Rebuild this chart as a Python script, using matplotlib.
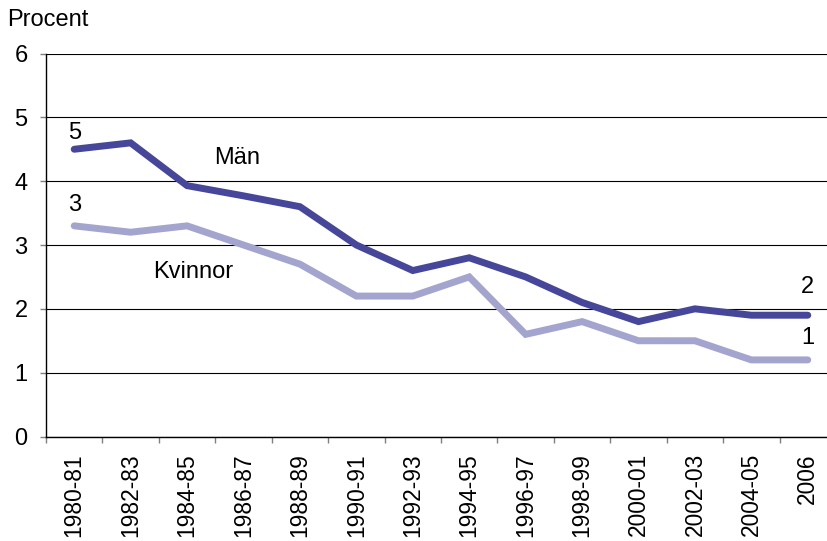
import matplotlib
matplotlib.use("Agg")
import matplotlib.pyplot as plt

categories = ["1980-81", "1982-83", "1984-85", "1986-87", "1988-89", "1990-91",
              "1992-93", "1994-95", "1996-97", "1998-99", "2000-01", "2002-03",
              "2004-05", "2006"]
man = [4.5, 4.6, 3.93, 3.77, 3.6, 3.0, 2.6, 2.8, 2.5, 2.1, 1.8, 2.0, 1.9, 1.9]
kvinnor = [3.3, 3.2, 3.3, 3.0, 2.7, 2.2, 2.2, 2.5, 1.6, 1.8, 1.5, 1.5, 1.2, 1.2]
yticks = [0, 1, 2, 3, 4, 5, 6]

plt.rcParams['font.family'] = ['Liberation Sans', 'DejaVu Sans']
FS = 17

W, H = 827, 541
fig = plt.figure(figsize=(W / 100, H / 100), dpi=100)
left, right = 46 / W, 836 / W
bottom, top = (H - 436.5) / H, (H - 53.5) / H
ax = fig.add_axes([left, bottom, right - left, top - bottom])

x = list(range(len(categories)))
c_man = "#46479A"
c_kv = "#A3A5CF"
ax.plot(x, kvinnor, color=c_kv, lw=5, solid_capstyle="round", solid_joinstyle="miter", zorder=3)
ax.plot(x, man, color=c_man, lw=5, solid_capstyle="round", solid_joinstyle="miter", zorder=4)

ax.set_xlim(-0.5, len(categories) - 0.5)
ax.set_ylim(0, 6)
ax.set_yticks(yticks)
ax.set_yticklabels([str(v) for v in yticks], fontsize=FS)
ax.yaxis.grid(True, color="#000000", lw=0.8)
ax.set_axisbelow(True)

ax.set_xticks([i - 0.5 for i in range(len(categories) + 1)], minor=False)
ax.set_xticklabels([""] * (len(categories) + 1))
ax.set_xticks(x, minor=True)
ax.set_xticklabels(categories, minor=True, rotation=90, fontsize=16.4)
ax.tick_params(axis="x", which="minor", length=0, pad=12)
ax.tick_params(axis="x", which="major", length=4.3, color="#808080", width=1)
ax.tick_params(axis="y", length=4.3, width=1, color="#808080", pad=9)

for s in ["top", "right"]:
    ax.spines[s].set_visible(False)
ax.spines["left"].set_color("#000000")
ax.spines["bottom"].set_color("#000000")
ax.spines["left"].set_linewidth(1)
ax.spines["bottom"].set_linewidth(1)

ax.text(0, 4.75, "5", fontsize=FS, ha="center", va="center")
ax.text(0, 3.63, "3", fontsize=FS, ha="center", va="center")
ax.text(13, 2.34, "2", fontsize=FS, ha="center", va="center")
ax.text(13, 1.54, "1", fontsize=FS, ha="center", va="center")
ax.text(2.89, 4.36, "Män", fontsize=FS, ha="center", va="center")
ax.text(2.11, 2.58, "Kvinnor", fontsize=FS, ha="center", va="center")

fig.text(7 / W, (H - 20) / H, "Procent", fontsize=FS, ha="left", va="center")

fig.savefig("out.png", dpi=100)
